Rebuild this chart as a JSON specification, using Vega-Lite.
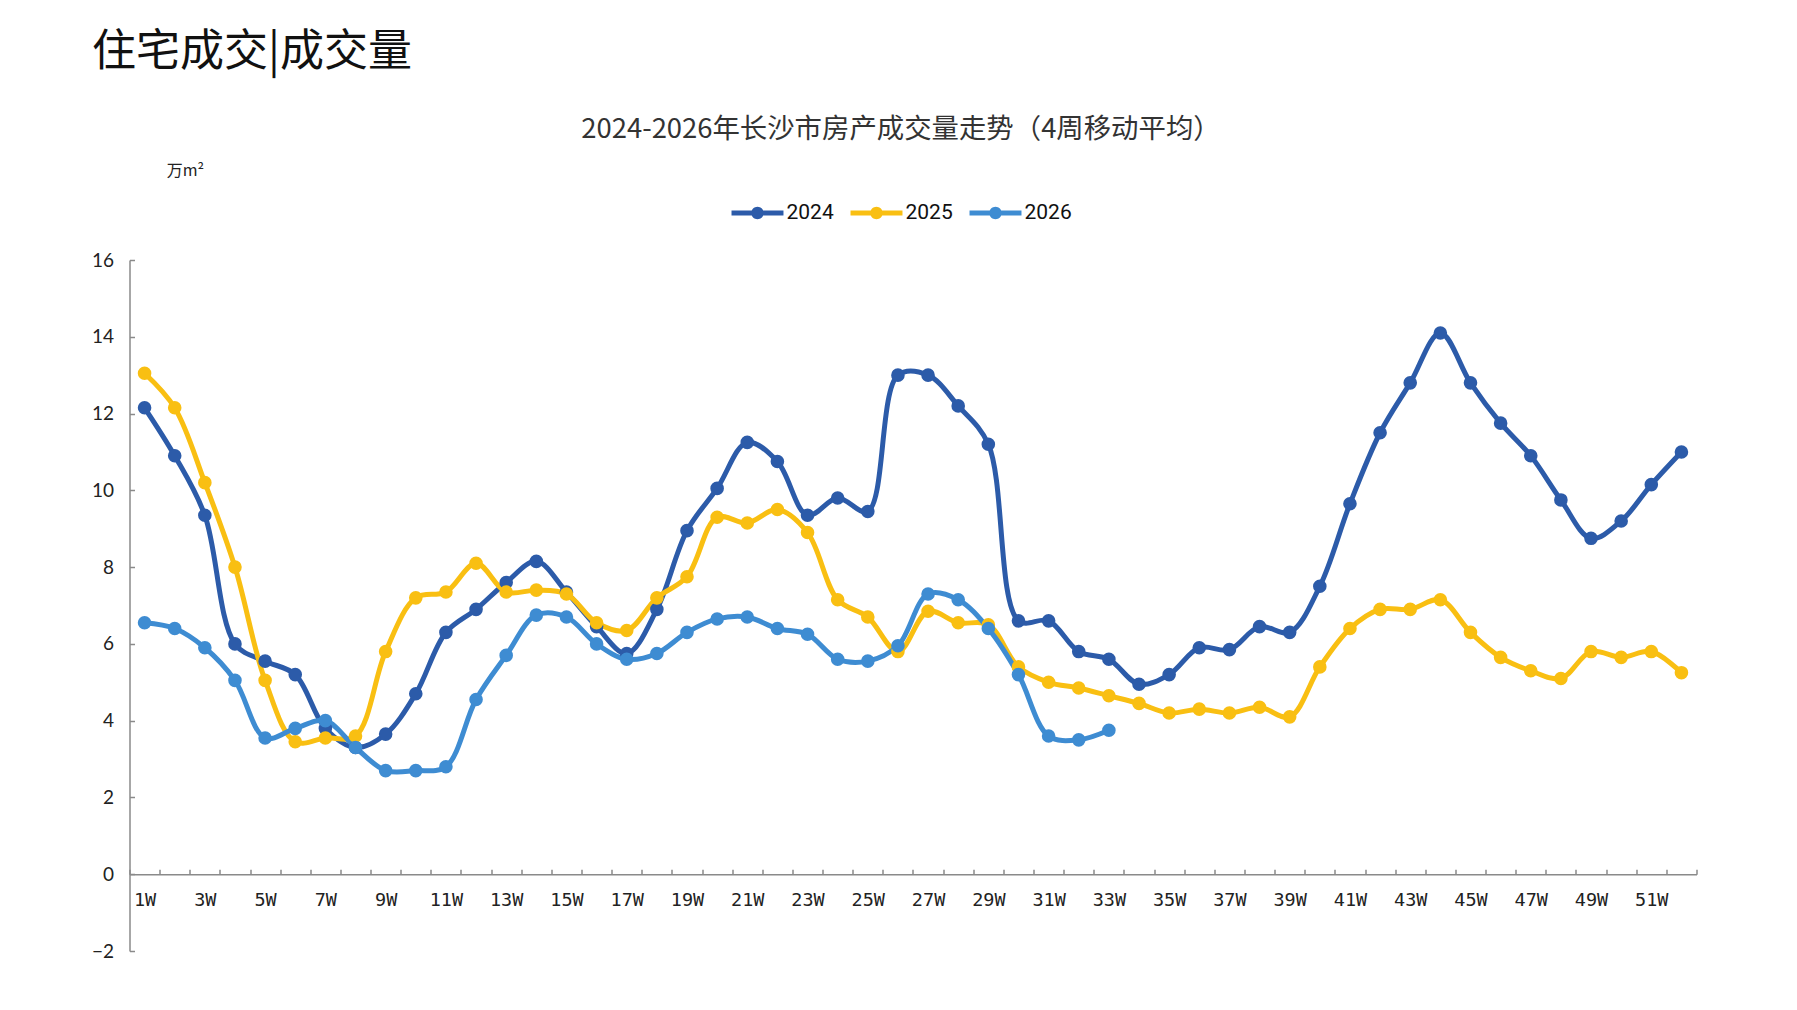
{
  "$schema": "https://vega.github.io/schema/vega-lite/v6.json",
  "width": 1567,
  "height": 691,
  "autosize": {"type": "none"},
  "padding": {"left": 129.5, "top": 260, "right": 100.5, "bottom": 59},
  "background": "white",
  "config": {"view": {"stroke": null}},
  "title": {
    "text": "住宅成交|成交量",
    "anchor": "start",
    "frame": "group",
    "dx": -37.5,
    "offset": 40,
    "font": "Noto Sans CJK SC",
    "fontSize": 44,
    "fontWeight": "normal",
    "color": "#111111"
  },
  "data": {
    "values": [
      {"year": "2024", "week": 1, "value": 12.15},
      {"year": "2024", "week": 2, "value": 10.9},
      {"year": "2024", "week": 3, "value": 9.35},
      {"year": "2024", "week": 4, "value": 6.0},
      {"year": "2024", "week": 5, "value": 5.55},
      {"year": "2024", "week": 6, "value": 5.2},
      {"year": "2024", "week": 7, "value": 3.8},
      {"year": "2024", "week": 8, "value": 3.3},
      {"year": "2024", "week": 9, "value": 3.65},
      {"year": "2024", "week": 10, "value": 4.7},
      {"year": "2024", "week": 11, "value": 6.3},
      {"year": "2024", "week": 12, "value": 6.9},
      {"year": "2024", "week": 13, "value": 7.6},
      {"year": "2024", "week": 14, "value": 8.15},
      {"year": "2024", "week": 15, "value": 7.35},
      {"year": "2024", "week": 16, "value": 6.45},
      {"year": "2024", "week": 17, "value": 5.75},
      {"year": "2024", "week": 18, "value": 6.9},
      {"year": "2024", "week": 19, "value": 8.95},
      {"year": "2024", "week": 20, "value": 10.05},
      {"year": "2024", "week": 21, "value": 11.25},
      {"year": "2024", "week": 22, "value": 10.75},
      {"year": "2024", "week": 23, "value": 9.35},
      {"year": "2024", "week": 24, "value": 9.8},
      {"year": "2024", "week": 25, "value": 9.45},
      {"year": "2024", "week": 26, "value": 13.0},
      {"year": "2024", "week": 27, "value": 13.0},
      {"year": "2024", "week": 28, "value": 12.2},
      {"year": "2024", "week": 29, "value": 11.2},
      {"year": "2024", "week": 30, "value": 6.6},
      {"year": "2024", "week": 31, "value": 6.6},
      {"year": "2024", "week": 32, "value": 5.8},
      {"year": "2024", "week": 33, "value": 5.6},
      {"year": "2024", "week": 34, "value": 4.95},
      {"year": "2024", "week": 35, "value": 5.2},
      {"year": "2024", "week": 36, "value": 5.9},
      {"year": "2024", "week": 37, "value": 5.85},
      {"year": "2024", "week": 38, "value": 6.45},
      {"year": "2024", "week": 39, "value": 6.3},
      {"year": "2024", "week": 40, "value": 7.5},
      {"year": "2024", "week": 41, "value": 9.65},
      {"year": "2024", "week": 42, "value": 11.5},
      {"year": "2024", "week": 43, "value": 12.8},
      {"year": "2024", "week": 44, "value": 14.1},
      {"year": "2024", "week": 45, "value": 12.8},
      {"year": "2024", "week": 46, "value": 11.75},
      {"year": "2024", "week": 47, "value": 10.9},
      {"year": "2024", "week": 48, "value": 9.75},
      {"year": "2024", "week": 49, "value": 8.75},
      {"year": "2024", "week": 50, "value": 9.2},
      {"year": "2024", "week": 51, "value": 10.15},
      {"year": "2024", "week": 52, "value": 11.0},
      {"year": "2025", "week": 1, "value": 13.05},
      {"year": "2025", "week": 2, "value": 12.15},
      {"year": "2025", "week": 3, "value": 10.2},
      {"year": "2025", "week": 4, "value": 8.0},
      {"year": "2025", "week": 5, "value": 5.05},
      {"year": "2025", "week": 6, "value": 3.45},
      {"year": "2025", "week": 7, "value": 3.55},
      {"year": "2025", "week": 8, "value": 3.6},
      {"year": "2025", "week": 9, "value": 5.8},
      {"year": "2025", "week": 10, "value": 7.2},
      {"year": "2025", "week": 11, "value": 7.35},
      {"year": "2025", "week": 12, "value": 8.1},
      {"year": "2025", "week": 13, "value": 7.35},
      {"year": "2025", "week": 14, "value": 7.4},
      {"year": "2025", "week": 15, "value": 7.3},
      {"year": "2025", "week": 16, "value": 6.55},
      {"year": "2025", "week": 17, "value": 6.35},
      {"year": "2025", "week": 18, "value": 7.2},
      {"year": "2025", "week": 19, "value": 7.75},
      {"year": "2025", "week": 20, "value": 9.3},
      {"year": "2025", "week": 21, "value": 9.15},
      {"year": "2025", "week": 22, "value": 9.5},
      {"year": "2025", "week": 23, "value": 8.9},
      {"year": "2025", "week": 24, "value": 7.15},
      {"year": "2025", "week": 25, "value": 6.7},
      {"year": "2025", "week": 26, "value": 5.8},
      {"year": "2025", "week": 27, "value": 6.85},
      {"year": "2025", "week": 28, "value": 6.55},
      {"year": "2025", "week": 29, "value": 6.5},
      {"year": "2025", "week": 30, "value": 5.4},
      {"year": "2025", "week": 31, "value": 5.0},
      {"year": "2025", "week": 32, "value": 4.85},
      {"year": "2025", "week": 33, "value": 4.65},
      {"year": "2025", "week": 34, "value": 4.45},
      {"year": "2025", "week": 35, "value": 4.2},
      {"year": "2025", "week": 36, "value": 4.3},
      {"year": "2025", "week": 37, "value": 4.2},
      {"year": "2025", "week": 38, "value": 4.35},
      {"year": "2025", "week": 39, "value": 4.1},
      {"year": "2025", "week": 40, "value": 5.4},
      {"year": "2025", "week": 41, "value": 6.4},
      {"year": "2025", "week": 42, "value": 6.9},
      {"year": "2025", "week": 43, "value": 6.9},
      {"year": "2025", "week": 44, "value": 7.15},
      {"year": "2025", "week": 45, "value": 6.3},
      {"year": "2025", "week": 46, "value": 5.65},
      {"year": "2025", "week": 47, "value": 5.3},
      {"year": "2025", "week": 48, "value": 5.1},
      {"year": "2025", "week": 49, "value": 5.8},
      {"year": "2025", "week": 50, "value": 5.65},
      {"year": "2025", "week": 51, "value": 5.8},
      {"year": "2025", "week": 52, "value": 5.25},
      {"year": "2026", "week": 1, "value": 6.55},
      {"year": "2026", "week": 2, "value": 6.4},
      {"year": "2026", "week": 3, "value": 5.9},
      {"year": "2026", "week": 4, "value": 5.05},
      {"year": "2026", "week": 5, "value": 3.55},
      {"year": "2026", "week": 6, "value": 3.8},
      {"year": "2026", "week": 7, "value": 4.0},
      {"year": "2026", "week": 8, "value": 3.3},
      {"year": "2026", "week": 9, "value": 2.7},
      {"year": "2026", "week": 10, "value": 2.7},
      {"year": "2026", "week": 11, "value": 2.8},
      {"year": "2026", "week": 12, "value": 4.55},
      {"year": "2026", "week": 13, "value": 5.7},
      {"year": "2026", "week": 14, "value": 6.75},
      {"year": "2026", "week": 15, "value": 6.7},
      {"year": "2026", "week": 16, "value": 6.0},
      {"year": "2026", "week": 17, "value": 5.6},
      {"year": "2026", "week": 18, "value": 5.75},
      {"year": "2026", "week": 19, "value": 6.3},
      {"year": "2026", "week": 20, "value": 6.65},
      {"year": "2026", "week": 21, "value": 6.7},
      {"year": "2026", "week": 22, "value": 6.4},
      {"year": "2026", "week": 23, "value": 6.25},
      {"year": "2026", "week": 24, "value": 5.6},
      {"year": "2026", "week": 25, "value": 5.55},
      {"year": "2026", "week": 26, "value": 5.95},
      {"year": "2026", "week": 27, "value": 7.3},
      {"year": "2026", "week": 28, "value": 7.15},
      {"year": "2026", "week": 29, "value": 6.4},
      {"year": "2026", "week": 30, "value": 5.2},
      {"year": "2026", "week": 31, "value": 3.6},
      {"year": "2026", "week": 32, "value": 3.5},
      {"year": "2026", "week": 33, "value": 3.75}
    ]
  },
  "mark": {
    "type": "line",
    "interpolate": "catmull-rom",
    "strokeWidth": 5,
    "point": {"filled": true, "size": 185, "opacity": 1}
  },
  "encoding": {
    "x": {
      "field": "week",
      "type": "ordinal",
      "bandPosition": 0.5,
      "scale": {"type": "band", "paddingInner": 0, "paddingOuter": 0},
      "axis": {
        "title": "2024-2026年长沙市房产成交量走势（4周移动平均）",
        "titleX": 771,
        "titleY": -745,
        "titleAlign": "center",
        "titleBaseline": "middle",
        "titleFont": "Noto Sans CJK SC",
        "titleFontSize": 27.4,
        "titleFontWeight": "normal",
        "titleColor": "#333333",
        "offset": -76.8,
        "tickBand": "extent",
        "tickSize": -5,
        "tickColor": "#8a8a8a",
        "tickWidth": 1.5,
        "domainColor": "#8a8a8a",
        "domainWidth": 1.5,
        "labelAngle": 0,
        "labelExpr": "datum.value % 2 == 1 ? datum.value + 'W' : ''",
        "labelOverlap": false,
        "labelFont": "DejaVu Sans Mono",
        "labelFontSize": 18.5,
        "labelColor": "#222222",
        "labelPadding": 21
      }
    },
    "y": {
      "field": "value",
      "type": "quantitative",
      "scale": {"domain": [-2, 16], "nice": false, "zero": false},
      "axis": {
        "values": [-2, 0, 2, 4, 6, 8, 10, 12, 14, 16],
        "grid": false,
        "title": "万m²",
        "titleX": 55.5,
        "titleY": -90,
        "titleAngle": 0,
        "titleAlign": "center",
        "titleBaseline": "middle",
        "titleFont": "Noto Sans CJK SC",
        "titleFontSize": 16,
        "titleFontWeight": "normal",
        "titleColor": "#222222",
        "tickSize": -5,
        "tickColor": "#8a8a8a",
        "tickWidth": 1.5,
        "domainColor": "#8a8a8a",
        "domainWidth": 1.5,
        "labelFont": "Lato",
        "labelFontSize": 19,
        "labelColor": "#222222",
        "labelPadding": 21
      }
    },
    "color": {
      "field": "year",
      "type": "nominal",
      "scale": {
        "domain": ["2024", "2025", "2026"],
        "range": ["#2c5ba9", "#f9bf12", "#3e8cd2"]
      },
      "legend": {
        "orient": "none",
        "legendX": 602,
        "legendY": -73,
        "direction": "horizontal",
        "title": null,
        "padding": 0,
        "symbolType": "M -1 -0.1 H 1 V 0.1 H -1 Z M 0.24 0 A 0.24 0.24 0 1 1 -0.24 0 A 0.24 0.24 0 1 1 0.24 0 Z",
        "symbolSize": 2700,
        "symbolStrokeWidth": 0,
        "labelFont": "Roboto",
        "labelFontSize": 21,
        "labelColor": "#111111",
        "labelOffset": 3,
        "columnPadding": 16,
        "encode": {
          "symbols": {
            "update": {
              "fill": {"scale": "color", "field": "value"},
              "stroke": {"value": "transparent"},
              "opacity": {"value": 1}
            }
          }
        }
      }
    }
  }
}
